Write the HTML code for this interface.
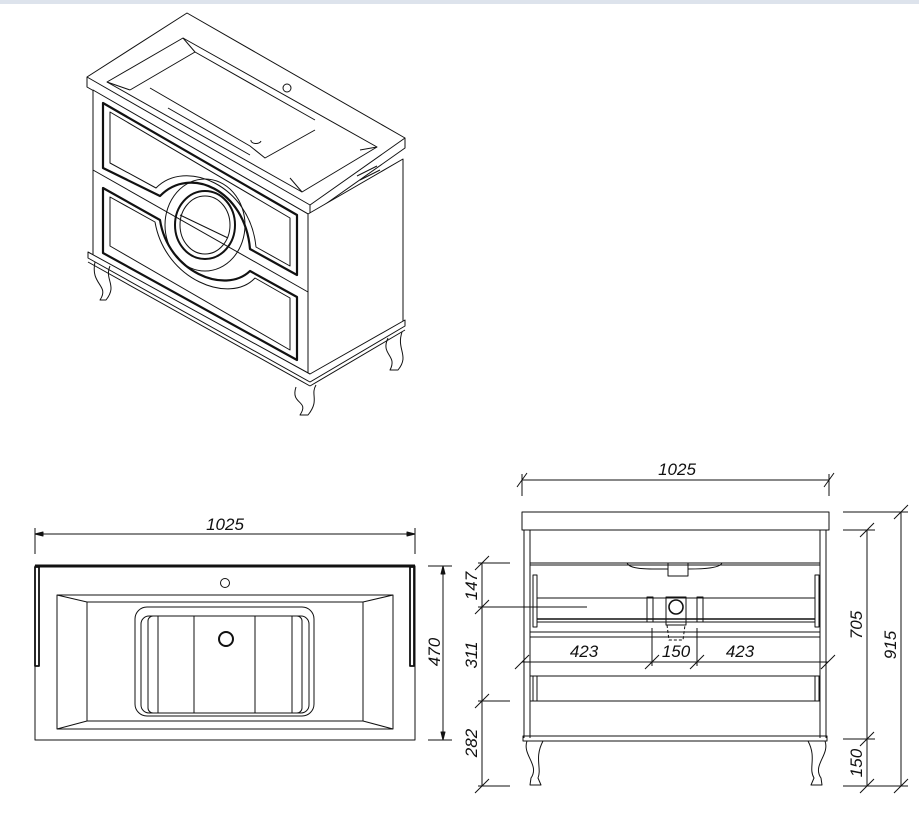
<!DOCTYPE html>
<html><head><meta charset="utf-8"><style>
html,body{margin:0;padding:0;background:#fff;width:919px;height:837px;overflow:hidden}
svg{display:block}
text{font-family:"Liberation Sans",sans-serif;font-style:italic;font-size:17px;fill:#111}
</style></head><body>
<svg width="919" height="837" viewBox="0 0 919 837" xmlns="http://www.w3.org/2000/svg">
<rect x="0" y="0" width="919" height="4" fill="#dde3ec"/>
<g fill="none" stroke="#111" stroke-width="1" stroke-linejoin="round">
<!-- ISOMETRIC -->
<polygon points="87,77 187,13 405,138 310,205" fill="#fff"/>
<polyline points="87,77 87,87 310,215 405,148 405,138"/>
<line x1="310" y1="205" x2="310" y2="215"/>
<polygon points="107,82 183,38 377,147 302,192"/>
<polyline points="130,90 195,52 315,120"/>
<line x1="107" y1="82" x2="130" y2="90"/><line x1="183" y1="38" x2="195" y2="52"/>
<line x1="377" y1="147" x2="360" y2="150"/><line x1="302" y1="192" x2="290" y2="178"/>
<polyline points="150,88 250,146 265,158 315,130"/>
<line x1="168" y1="108" x2="250" y2="155"/>
<circle cx="287" cy="88" r="4"/>
<path d="M251,140 a5,3 0 0 0 10,1"/>
<path d="M357,176 l20,-10 M360,180 l20,-10"/>
<!-- body -->
<polygon points="93,90 308,214 308,377 93,258" fill="#fff"/>
<polygon points="308,214 403,159 403,322 308,377" fill="#fff"/>
<line x1="93" y1="170" x2="308" y2="292"/>
<!-- drawer panels -->
<g stroke-width="2.2">
<path d="M103,103 L297,215 L297,275 L250,249 C245,190 190,165 160,196 L103,168 Z"/>
<path d="M103,188 L160,220 C168,272 225,295 250,271 L297,297 L297,360 L103,253 Z"/>
</g>
<path d="M110,112 L290,218 L290,266 L256,247 C250,185 185,158 156,188 L110,163 Z"/>
<path d="M110,197 L155,222 C165,280 230,305 255,278 L290,298 L290,350 L110,246 Z"/>
<ellipse cx="205" cy="225" rx="40" ry="46"/>
<ellipse cx="205" cy="225" rx="30" ry="34" stroke-width="2"/>
<ellipse cx="205" cy="225" rx="25" ry="29"/>
<line x1="180" y1="215" x2="228" y2="238"/>
<!-- plinth -->
<polygon points="88,258 310,382 405,326 405,320 310,374 88,252" fill="#fff"/>
<line x1="88" y1="262" x2="310" y2="386"/><line x1="310" y1="386" x2="405" y2="330"/>
<!-- legs -->
<path d="M95,262 C90,285 110,285 100,300 L106,300 C118,285 104,280 110,266"/>
<path d="M296,387 C290,405 310,400 300,415 L308,415 C320,400 310,395 316,385"/>
<path d="M388,338 C380,355 398,355 390,370 L398,370 C410,355 396,350 402,332"/>

<!-- TOP VIEW -->
<line x1="35" y1="534" x2="415" y2="534"/>
<line x1="35" y1="528" x2="35" y2="554"/><line x1="415" y1="528" x2="415" y2="554"/>
<path d="M35,534 l8,-2 v4z M415,534 l-8,-2 v4z" fill="#111"/>
<rect x="35" y="566" width="380" height="174"/>
<line x1="35" y1="566" x2="415" y2="566" stroke-width="3"/>
<rect x="35" y="567" width="4" height="99" stroke-width="1.8"/>
<rect x="410" y="567" width="4" height="99" stroke-width="1.8"/>
<circle cx="225" cy="583" r="4.5"/>
<rect x="57" y="595" width="336" height="134"/>
<rect x="87" y="602" width="276" height="119"/>
<line x1="57" y1="595" x2="87" y2="602"/><line x1="393" y1="595" x2="363" y2="602"/>
<line x1="57" y1="729" x2="87" y2="721"/><line x1="393" y1="729" x2="363" y2="721"/>
<rect x="135" y="607" width="179" height="109" rx="12"/>
<rect x="141" y="616" width="168" height="97" rx="8"/>
<rect x="148" y="616" width="154" height="97" rx="5"/>
<line x1="158" y1="616" x2="158" y2="713"/><line x1="194" y1="616" x2="194" y2="713"/>
<line x1="255" y1="616" x2="255" y2="713"/><line x1="292" y1="616" x2="292" y2="713"/>
<circle cx="226" cy="639" r="7" stroke-width="2"/>
<line x1="428" y1="566" x2="452" y2="566"/><line x1="428" y1="740" x2="452" y2="740"/>
<line x1="443" y1="566" x2="443" y2="740"/>
<path d="M443,566 l-2,8 h4z M443,740 l-2,-8 h4z" fill="#111"/>

<!-- FRONT VIEW -->
<line x1="522" y1="480" x2="829" y2="480"/>
<line x1="522" y1="474" x2="522" y2="496"/><line x1="829" y1="474" x2="829" y2="496"/>
<path d="M517,487 l10,-14 M824,487 l10,-14"/>
<rect x="522" y="512" width="307" height="18"/>
<line x1="524" y1="530" x2="524" y2="738"/><line x1="530" y1="530" x2="530" y2="738"/>
<line x1="820" y1="530" x2="820" y2="738"/><line x1="826" y1="530" x2="826" y2="738"/>
<line x1="530" y1="563" x2="820" y2="563"/>
<path d="M627,563 C630,570 650,569 668,569 M688,569 C705,569 720,568 722,563"/>
<rect x="668" y="563" width="20" height="13"/>
<line x1="530" y1="565" x2="820" y2="565"/>
<rect x="533" y="575" width="4" height="52"/><rect x="815" y="575" width="4" height="52"/>
<line x1="537" y1="598" x2="815" y2="598"/>
<line x1="537" y1="619" x2="815" y2="619" stroke-width="1.6"/>
<line x1="537" y1="622" x2="815" y2="622"/>
<rect x="647" y="597" width="6" height="25"/><rect x="697" y="597" width="6" height="25"/>
<rect x="666" y="597" width="20" height="28"/>
<circle cx="676" cy="607" r="7" stroke-width="1.6"/>
<path d="M667,625 l2,15 h14 l2,-15" stroke-dasharray="3,2"/>
<line x1="530" y1="632" x2="820" y2="632"/><line x1="530" y1="637" x2="820" y2="637"/>
<rect x="533" y="676" width="4" height="25"/><rect x="815" y="676" width="4" height="25"/>
<line x1="530" y1="676" x2="820" y2="676"/>
<line x1="530" y1="701" x2="820" y2="701"/>
<rect x="523" y="736" width="304" height="5"/>
<path d="M527,741 C522,755 540,765 531,778 L530,785 H541 L538,778 C542,768 534,758 543,741"/>
<path d="M808,741 C817,758 808,768 814,778 L811,785 H822 L821,778 C812,765 830,755 825,741"/>
<!-- right dims -->
<line x1="843" y1="512" x2="908" y2="512"/>
<line x1="843" y1="530" x2="875" y2="530"/>
<line x1="843" y1="739" x2="875" y2="739"/>
<line x1="843" y1="786" x2="908" y2="786"/>
<line x1="867" y1="530" x2="867" y2="786"/>
<line x1="901" y1="512" x2="901" y2="786"/>
<path d="M860,537 l14,-14 M860,746 l14,-14 M860,793 l14,-14 M894,519 l14,-14 M894,793 l14,-14"/>
<!-- left dims -->
<line x1="482" y1="563" x2="482" y2="786"/>
<line x1="478" y1="563" x2="510" y2="563"/>
<line x1="478" y1="607" x2="587" y2="607"/>
<line x1="478" y1="701" x2="510" y2="701"/>
<line x1="478" y1="786" x2="510" y2="786"/>
<path d="M475,570 l14,-14 M475,614 l14,-14 M475,708 l14,-14 M475,793 l14,-14"/>
<!-- horizontal 423/150/423 -->
<line x1="522" y1="662" x2="828" y2="662"/>
<line x1="652" y1="628" x2="652" y2="666"/><line x1="697" y1="628" x2="697" y2="666"/>
<path d="M515,669 l14,-14 M645,669 l14,-14 M690,669 l14,-14 M821,669 l14,-14"/>
</g>
<text x="225" y="530" text-anchor="middle">1025</text>
<text x="677" y="475" text-anchor="middle">1025</text>
<text transform="translate(440,652) rotate(-90)" text-anchor="middle">470</text>
<text transform="translate(477,586) rotate(-90)" text-anchor="middle">147</text>
<text transform="translate(477,655) rotate(-90)" text-anchor="middle">311</text>
<text transform="translate(477,743) rotate(-90)" text-anchor="middle">282</text>
<text transform="translate(862,625) rotate(-90)" text-anchor="middle">705</text>
<text transform="translate(862,763) rotate(-90)" text-anchor="middle">150</text>
<text transform="translate(896,645) rotate(-90)" text-anchor="middle">915</text>
<text x="584" y="657" text-anchor="middle">423</text>
<text x="676" y="657" text-anchor="middle">150</text>
<text x="740" y="657" text-anchor="middle">423</text>
</svg>
</body></html>
